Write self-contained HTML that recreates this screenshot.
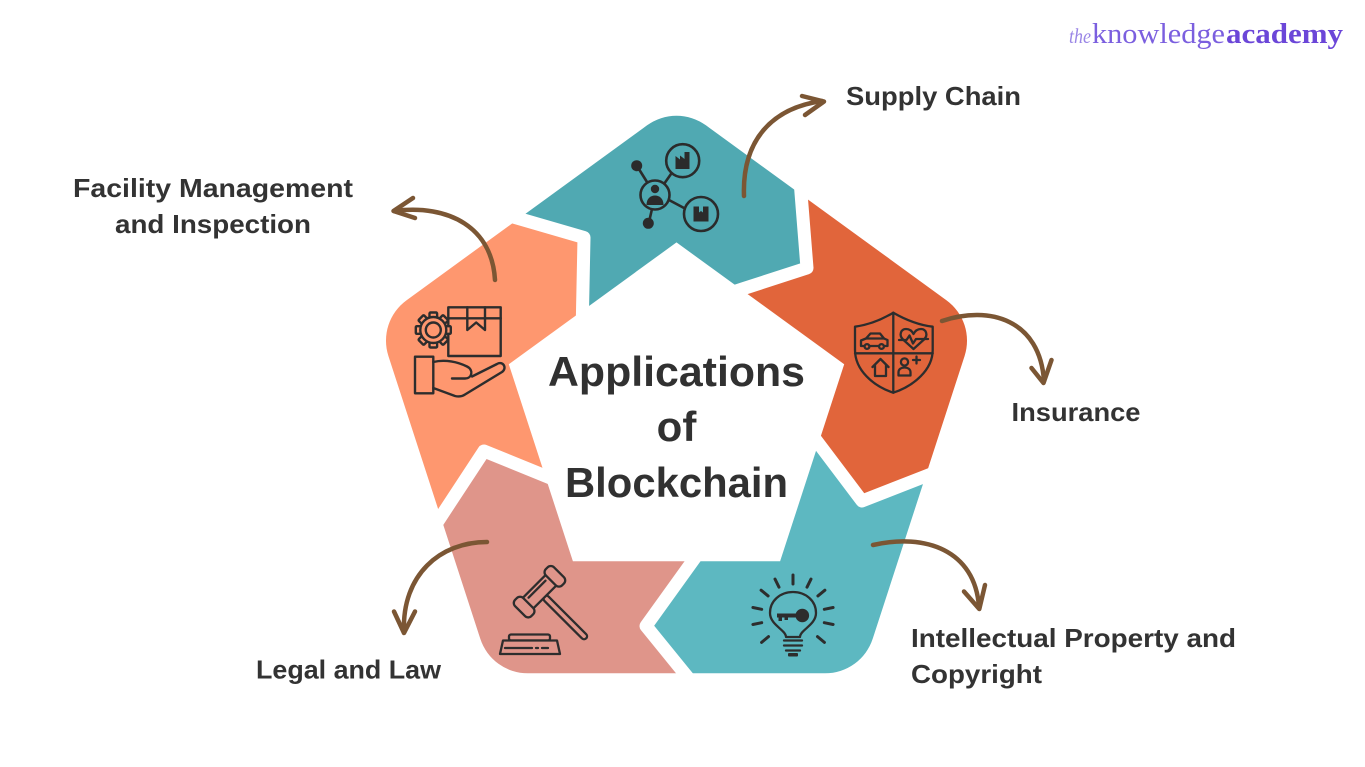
<!DOCTYPE html>
<html>
<head>
<meta charset="utf-8">
<style>
  html,body{margin:0;padding:0;background:#fff;width:1365px;height:767px;overflow:hidden;}
  svg{display:block;position:absolute;left:0;top:0;}
  .lbl{font-family:"Liberation Sans",Arial,sans-serif;font-weight:bold;fill:#333333;font-size:26px;}
  .ttl{font-family:"Liberation Sans",Arial,sans-serif;font-weight:bold;fill:#313131;font-size:42px;}
  .logo{font-family:"Liberation Serif","DejaVu Serif",serif;}
</style>
</head>
<body>
<svg width="1365" height="767" viewBox="0 0 1365 767" xmlns="http://www.w3.org/2000/svg" overflow="hidden">
  <rect width="1365" height="767" fill="#ffffff"/>
  <defs>
    <clipPath id="pent">
      <path d="M705.9,125.3 L946.4,300.2 A50,50 0 0 1 964.6,356.0 L872.7,638.8 A50,50 0 0 1 825.2,673.3 L527.8,673.3 A50,50 0 0 1 480.3,638.8 L388.4,356.0 A50,50 0 0 1 406.6,300.2 L647.1,125.3 A50,50 0 0 1 705.9,125.3 Z"/>
    </clipPath>
  </defs>

  <!-- segments -->
  <g clip-path="url(#pent)">
    <polygon fill="#50A9B2" points="676.5,418.7 582.5,311 584,237.5 517.7,218.3 479.3,207.2 291,5 879,5 799,168 801,193 807,268 743.2,288.7"/>
    <polygon fill="#E1653B" points="676.5,418.7 743.2,288.7 807,268 801,193 799,168 879,5 1100,5 1100,489 954,465 926,476 862,501 819,444"/>
    <polygon fill="#5DB8C1" points="676.5,418.7 819,444 862,501 926,476 954,465 1100,489 1100,760 710,760 704,697 685,674 646,626 692,562"/>
    <polygon fill="#DF958A" points="676.5,418.7 692,562 646,626 685,674 704,697 710,760 250,760 250,628 423.5,543 440,518 484,451 543,475"/>
    <polygon fill="#FE976F" points="676.5,418.7 543,475 484,451 440,518 423.5,543 250,628 250,5 291,5 479.3,207.2 517.7,218.3 584,237.5 582.5,311"/>
  </g>

  <!-- white gaps -->
  <g fill="none" stroke="#ffffff" stroke-width="13" stroke-linejoin="round" stroke-linecap="round">
    <polyline points="582,335 582.5,311 584,237.5 517.7,218.3 470,204.5"/>
    <polyline points="724,295 743.2,288.7 807,268 801,193 798.5,160"/>
    <polyline points="804,424 819,444 862,501 926,476 960,462.6"/>
    <polyline points="706.6,541.7 692,562 646,626 685,674 709,703"/>
    <polyline points="566,484.4 543,475 484,451 440,518 419,550"/>
  </g>

  <!-- inner pentagon -->
  <polygon fill="#ffffff" points="676.5,242.4 844.2,364.2 780.1,561.3 572.9,561.3 508.8,364.2"/>

  <!-- Title -->
  <text class="ttl" x="676.5" y="386" text-anchor="middle" textLength="257" lengthAdjust="spacingAndGlyphs">Applications</text>
  <text class="ttl" x="676.5" y="441" text-anchor="middle">of</text>
  <text class="ttl" x="676.5" y="497" text-anchor="middle" textLength="223" lengthAdjust="spacingAndGlyphs">Blockchain</text>

  <!-- Labels -->
  <text class="lbl" x="846" y="105" textLength="175" lengthAdjust="spacingAndGlyphs">Supply Chain</text>
  <text class="lbl" x="73" y="197" textLength="280" lengthAdjust="spacingAndGlyphs">Facility Management</text>
  <text class="lbl" x="115" y="233" textLength="196" lengthAdjust="spacingAndGlyphs">and Inspection</text>
  <text class="lbl" x="1011.5" y="421" textLength="129" lengthAdjust="spacingAndGlyphs">Insurance</text>
  <text class="lbl" x="911" y="647" textLength="325" lengthAdjust="spacingAndGlyphs">Intellectual Property and</text>
  <text class="lbl" x="911" y="683" textLength="131" lengthAdjust="spacingAndGlyphs">Copyright</text>
  <text class="lbl" x="256" y="678.5" textLength="185" lengthAdjust="spacingAndGlyphs">Legal and Law</text>

  <!-- Logo -->
  <text class="logo" x="1069" y="43" font-size="21" font-style="italic" fill="#9a86e6" textLength="22" lengthAdjust="spacingAndGlyphs">the</text>
  <text class="logo" x="1092" y="43" font-size="29" fill="#7b5fdf" textLength="133" lengthAdjust="spacingAndGlyphs">knowledge</text>
  <text class="logo" x="1226" y="43" font-size="29" font-weight="bold" fill="#6b46d8" textLength="117" lengthAdjust="spacingAndGlyphs">academy</text>

  <!-- Arrows -->
  <g fill="none" stroke="#7B5634" stroke-width="4.5" stroke-linecap="round" stroke-linejoin="round">
    <path d="M744,196 C742,140 772,108 822,101"/>
    <polyline points="802,96 824,101.5 805,115"/>
    <path d="M495,280 C492,228 450,204 394,211"/>
    <polyline points="413,198 393.5,211 415,218"/>
    <path d="M942,321 C990,305 1040,320 1044,381"/>
    <polyline points="1031.5,368 1043.5,383 1051.5,360"/>
    <path d="M873,545 C925,533 975,550 979,607"/>
    <polyline points="964,591.5 979.3,609 985,585"/>
    <path d="M487,542 C440,542 402,575 404,631"/>
    <polyline points="394,611.5 404,633 415,611.5"/>
  </g>

  <!-- Supply chain icon -->
  <g stroke="#2b2b2b" stroke-width="2.6" fill="none" stroke-linecap="round">
    <line x1="637" y1="166" x2="647" y2="182"/>
    <line x1="664" y1="184" x2="671" y2="174"/>
    <line x1="669" y1="200" x2="684" y2="208"/>
    <line x1="652" y1="209" x2="649" y2="222"/>
    <circle cx="655" cy="195" r="14.5" fill="#50A9B2"/>
    <circle cx="682.7" cy="160.7" r="16.5" fill="#50A9B2"/>
    <circle cx="701" cy="214" r="17" fill="#50A9B2"/>
  </g>
  <g fill="#2b2b2b">
    <circle cx="636.7" cy="165.7" r="5.5"/>
    <circle cx="648.3" cy="223.3" r="5.5"/>
    <circle cx="655" cy="189" r="4.2"/>
    <path d="M646.5,205 C646.5,198.5 650.5,195.5 655,195.5 C659.5,195.5 663.5,198.5 663.5,205 Z"/>
    <path d="M675.5,169 V156 L680,159.5 V155.5 L684.5,159 V152 H689.5 V169 Z"/>
    <rect x="693.5" y="206.5" width="15" height="15"/>
  </g>
  <path d="M699,206.5 H703 V212.5 L701,211 L699,212.5 Z" fill="#50A9B2"/>

  <!-- Facility icon -->
  <g stroke="#2d2d2d" stroke-width="2.4" fill="#FE976F" stroke-linejoin="round" stroke-linecap="round">
    <rect x="448.3" y="307.3" width="52.4" height="48.7"/>
    <line x1="448.3" y1="318.3" x2="500.7" y2="318.3"/>
    <path d="M467.3,307.3 V330 L476.2,322.5 L485,330 V307.3" fill="none"/>
    <g transform="translate(433.3,330)">
      <rect x="-3.8" y="-17.5" width="7.6" height="7" rx="1"/>
      <rect x="-3.8" y="-17.5" width="7.6" height="7" rx="1" transform="rotate(45)"/>
      <rect x="-3.8" y="-17.5" width="7.6" height="7" rx="1" transform="rotate(90)"/>
      <rect x="-3.8" y="-17.5" width="7.6" height="7" rx="1" transform="rotate(135)"/>
      <rect x="-3.8" y="-17.5" width="7.6" height="7" rx="1" transform="rotate(180)"/>
      <rect x="-3.8" y="-17.5" width="7.6" height="7" rx="1" transform="rotate(225)"/>
      <rect x="-3.8" y="-17.5" width="7.6" height="7" rx="1" transform="rotate(270)"/>
      <rect x="-3.8" y="-17.5" width="7.6" height="7" rx="1" transform="rotate(315)"/>
      <circle cx="0" cy="0" r="13"/>
      <circle cx="0" cy="0" r="7.5"/>
    </g>
    <rect x="415" y="356.7" width="18.3" height="36.6"/>
    <path d="M433.3,362 C445,359 458,362 467,366.5 C474,370 472,378.5 465,378.5 H452" fill="none"/>
    <path d="M433.3,388 L455,396 C459,397 462,396.5 465,394.5 L502,372 C507.5,368 503,360.5 497,364 L472,376.5" fill="none"/>
  </g>

  <!-- Insurance icon -->
  <g stroke="#2d2d2d" stroke-width="2.3" fill="none" stroke-linejoin="round" stroke-linecap="round">
    <path d="M893.3,312.7 C881,320 868,325 855,326.7 L855,350 C855,370 873,386 893.3,392.7 C913.6,386 932.7,370 932.7,350 L932.7,326.7 C919,325 906,320 893.3,312.7 Z"/>
    <line x1="893.3" y1="312.7" x2="893.3" y2="392.7"/>
    <line x1="855" y1="353.3" x2="932.7" y2="353.3"/>
    <path d="M861,346 V340.5 L866,338.5 L870.5,333.5 H880 L884,338.5 L887.5,340 V346 Z"/>
    <line x1="866" y1="338.5" x2="884" y2="338.5"/>
    <circle cx="867" cy="346.5" r="2.4" fill="#E1653B"/>
    <circle cx="881.5" cy="346.5" r="2.4" fill="#E1653B"/>
    <path d="M913.5,349 L903,339.5 C898.5,335 901,329 906,329 C909.5,329 912,331 913.5,334 C915,331 917.5,329 921,329 C926,329 928.5,335 924,339.5 Z"/>
    <path d="M899,340 H906.5 L909.5,335.5 L913,343.5 L916,339 H928"/>
    <path d="M872.5,367 L880.5,359 L888.5,367 M875,365 V376 H886 V365"/>
    <circle cx="904.5" cy="362" r="3.6"/>
    <path d="M898.5,375.5 V372.5 C898.5,369 901.5,367.5 904.5,367.5 C907.5,367.5 910.5,369 910.5,372.5 V375.5 Z"/>
    <path d="M913,360 H920 M916.5,356.5 V363.5"/>
  </g>

  <!-- Bulb icon -->
  <g stroke="#2d2d2d" stroke-width="2.3" fill="none" stroke-linecap="round" stroke-linejoin="round">
    <path d="M786,637 C786,630 770,625 770,613 C770,601 780,592 793,592 C806,592 816,601 816,613 C816,625 800,630 800,637 Z"/>
    <line x1="784" y1="640.5" x2="802" y2="640.5"/>
    <line x1="784" y1="645.5" x2="802" y2="645.5"/>
    <line x1="786" y1="650.5" x2="800" y2="650.5"/>
  </g>
  <g fill="#2d2d2d">
    <rect x="788" y="653" width="10" height="3.5" rx="1"/>
    <circle cx="802.3" cy="615.5" r="6.8"/>
    <rect x="777" y="613.5" width="20" height="4"/>
    <rect x="778.5" y="617" width="3.5" height="4"/>
    <rect x="784.5" y="617" width="3.5" height="3"/>
  </g>
  <g stroke="#2d2d2d" stroke-width="3" stroke-linecap="round">
    <line x1="793" y1="584" x2="793" y2="575"/>
    <line x1="807" y1="587.2" x2="811" y2="579.1"/>
    <line x1="779" y1="587.2" x2="775" y2="579.1"/>
    <line x1="817.9" y1="595.9" x2="824.9" y2="590.2"/>
    <line x1="768.1" y1="595.9" x2="761.1" y2="590.2"/>
    <line x1="824.3" y1="609.3" x2="833.1" y2="607.5"/>
    <line x1="761.7" y1="609.3" x2="752.9" y2="607.5"/>
    <line x1="824.3" y1="622.7" x2="833.1" y2="624.5"/>
    <line x1="761.7" y1="622.7" x2="752.9" y2="624.5"/>
    <line x1="817.5" y1="636.6" x2="824.4" y2="642.4"/>
    <line x1="768.5" y1="636.6" x2="761.6" y2="642.4"/>
  </g>

  <!-- Gavel icon -->
  <g stroke="#2d2d2d" stroke-width="2.3" fill="#DF958A" stroke-linejoin="round" stroke-linecap="round">
    <g transform="translate(539.5,591.7) rotate(-45)">
      <rect x="-3" y="7" width="6" height="59" rx="3"/>
      <rect x="-17" y="-7.5" width="34" height="15" rx="2"/>
      <line x1="-12" y1="-3.5" x2="12" y2="-3.5"/>
      <rect x="-27.5" y="-11.5" width="11.5" height="23" rx="4.5"/>
      <rect x="16" y="-11.5" width="11.5" height="23" rx="4.5"/>
    </g>
    <rect x="509" y="634.5" width="41" height="6" rx="2"/>
    <path d="M503,640.5 H557 L560,654 H500 Z"/>
    <path d="M505,648 H532 M536,648 H538 M542,648 H548" fill="none"/>
  </g>
</svg>
</body>
</html>
